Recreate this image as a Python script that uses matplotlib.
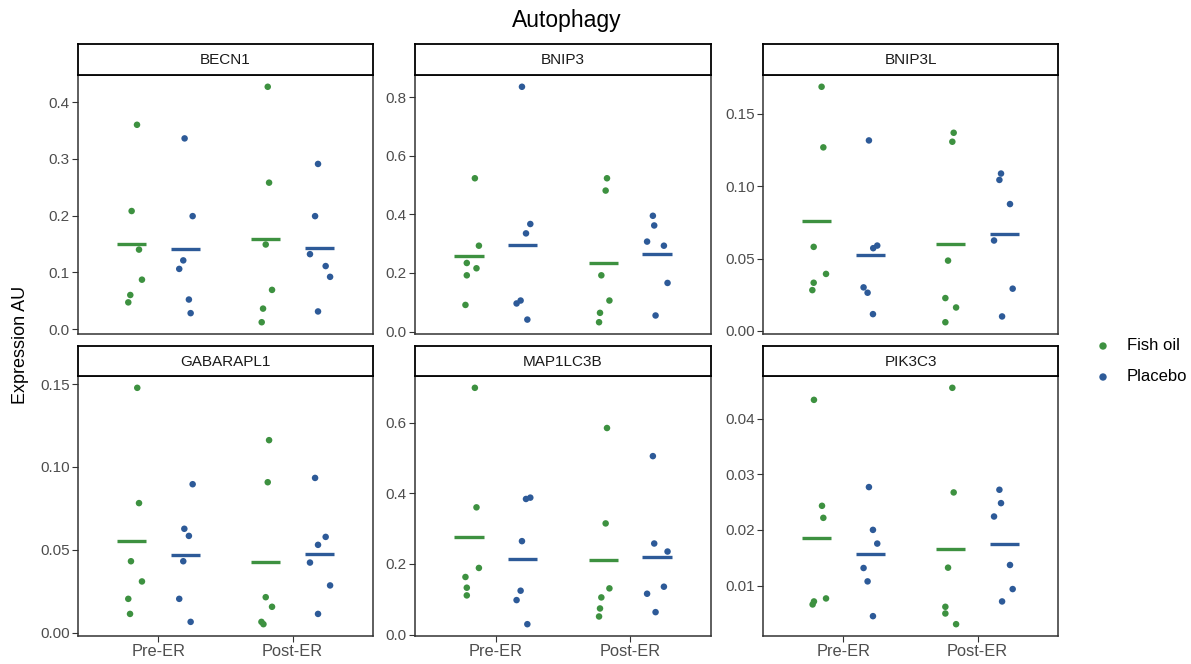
import numpy as np
import matplotlib
matplotlib.use("Agg")
import matplotlib.pyplot as plt
from matplotlib.ticker import FixedLocator, FormatStrFormatter

plt.rcParams['font.family'] = ['Liberation Sans', 'DejaVu Sans']

# ---------------- data ----------------
genes = ["BECN1", "BNIP3", "BNIP3L", "GABARAPL1", "MAP1LC3B", "PIK3C3"]
timepoints = ["Pre-ER", "Post-ER"]
groups = ["Fish oil", "Placebo"]

BECN1 = {
    ("Fish oil", "Pre-ER"): [0.360, 0.208, 0.140, 0.087, 0.060, 0.047],
    ("Placebo", "Pre-ER"): [0.336, 0.199, 0.121, 0.106, 0.052, 0.028],
    ("Fish oil", "Post-ER"): [0.427, 0.258, 0.149, 0.069, 0.036, 0.012],
    ("Placebo", "Post-ER"): [0.291, 0.199, 0.132, 0.111, 0.092, 0.031],
}
BNIP3 = {
    ("Fish oil", "Pre-ER"): [0.523, 0.293, 0.234, 0.216, 0.192, 0.091],
    ("Placebo", "Pre-ER"): [0.835, 0.367, 0.335, 0.106, 0.096, 0.041],
    ("Fish oil", "Post-ER"): [0.523, 0.481, 0.192, 0.106, 0.064, 0.032],
    ("Placebo", "Post-ER"): [0.395, 0.362, 0.307, 0.293, 0.166, 0.055],
}
BNIP3L = {
    ("Fish oil", "Pre-ER"): [0.1688, 0.1269, 0.0581, 0.0394, 0.0333, 0.0282],
    ("Placebo", "Pre-ER"): [0.1317, 0.0590, 0.0572, 0.0301, 0.0264, 0.0116],
    ("Fish oil", "Post-ER"): [0.1370, 0.1308, 0.0486, 0.0227, 0.0162, 0.0060],
    ("Placebo", "Post-ER"): [0.1088, 0.1044, 0.0877, 0.0625, 0.0292, 0.0100],
}
GABARAPL1 = {
    ("Fish oil", "Pre-ER"): [0.1478, 0.0782, 0.0431, 0.0309, 0.0204, 0.0113],
    ("Placebo", "Pre-ER"): [0.0896, 0.0627, 0.0584, 0.0431, 0.0204, 0.0065],
    ("Fish oil", "Post-ER"): [0.1162, 0.0908, 0.0214, 0.0156, 0.0065, 0.0051],
    ("Placebo", "Post-ER"): [0.0934, 0.0578, 0.0530, 0.0423, 0.0285, 0.0113],
}
MAP1LC3B = {
    ("Fish oil", "Pre-ER"): [0.6986, 0.3602, 0.1886, 0.1630, 0.1327, 0.1109],
    ("Placebo", "Pre-ER"): [0.3877, 0.3839, 0.2645, 0.1242, 0.0976, 0.0294],
    ("Fish oil", "Post-ER"): [0.5848, 0.3147, 0.1308, 0.1052, 0.0739, 0.0512],
    ("Placebo", "Post-ER"): [0.5052, 0.2578, 0.2351, 0.1355, 0.1156, 0.0635],
}
PIK3C3 = {
    ("Fish oil", "Pre-ER"): [0.04335, 0.02434, 0.02218, 0.00772, 0.00718, 0.00664],
    ("Placebo", "Pre-ER"): [0.02770, 0.02002, 0.01756, 0.01318, 0.01078, 0.00454],
    ("Fish oil", "Post-ER"): [0.04551, 0.02674, 0.01324, 0.00622, 0.00502, 0.00310],
    ("Placebo", "Post-ER"): [0.02722, 0.02482, 0.02242, 0.01372, 0.00940, 0.00718],
}

# horizontal jitter offsets (x units)
jit_col1 = {
    ("Fish oil", "Pre-ER"): [0.040, 0.000, 0.055, 0.077, -0.010, -0.025],
    ("Placebo", "Pre-ER"): [-0.005, 0.055, -0.015, -0.045, 0.027, 0.040],
    ("Fish oil", "Post-ER"): [0.015, 0.025, 0.000, 0.047, -0.020, -0.030],
    ("Placebo", "Post-ER"): [-0.010, -0.032, -0.070, 0.047, 0.080, -0.010],
}
jit_BNIP3 = {
    ("Fish oil", "Pre-ER"): [0.045, 0.075, -0.015, 0.057, -0.015, -0.025],
    ("Placebo", "Pre-ER"): [-0.005, 0.057, 0.025, -0.015, -0.045, 0.035],
    ("Fish oil", "Post-ER"): [0.027, 0.017, -0.015, 0.045, -0.025, -0.032],
    ("Placebo", "Post-ER"): [-0.032, -0.022, -0.075, 0.050, 0.077, -0.012],
}
jit_BNIP3L = {
    ("Fish oil", "Pre-ER"): [0.037, 0.050, -0.022, 0.070, -0.022, -0.032],
    ("Placebo", "Pre-ER"): [-0.010, 0.052, 0.022, -0.050, -0.020, 0.020],
    ("Fish oil", "Post-ER"): [0.022, 0.012, -0.020, -0.040, 0.040, -0.040],
    ("Placebo", "Post-ER"): [-0.025, -0.037, 0.042, -0.077, 0.062, -0.017],
}
jit_GABARAPL1 = {
    ("Fish oil", "Pre-ER"): [0.042, 0.055, -0.005, 0.077, -0.025, -0.012],
    ("Placebo", "Pre-ER"): [0.055, -0.007, 0.027, -0.015, -0.045, 0.040],
    ("Fish oil", "Post-ER"): [0.025, 0.015, 0.000, 0.047, -0.032, -0.017],
    ("Placebo", "Post-ER"): [-0.032, 0.047, -0.010, -0.070, 0.080, -0.010],
}
jit_MAP1LC3B = {
    ("Fish oil", "Pre-ER"): [0.045, 0.057, 0.075, -0.025, -0.015, -0.015],
    ("Placebo", "Pre-ER"): [0.057, 0.025, -0.005, -0.015, -0.045, 0.035],
    ("Fish oil", "Post-ER"): [0.027, 0.017, 0.045, -0.015, -0.025, -0.032],
    ("Placebo", "Post-ER"): [-0.032, -0.022, 0.077, 0.050, -0.075, -0.012],
}
jit_PIK3C3 = {
    ("Fish oil", "Pre-ER"): [-0.020, 0.040, 0.050, 0.070, -0.020, -0.030],
    ("Placebo", "Pre-ER"): [-0.010, 0.020, 0.052, -0.050, -0.020, 0.020],
    ("Fish oil", "Post-ER"): [0.012, 0.022, -0.020, -0.040, -0.040, 0.040],
    ("Placebo", "Post-ER"): [-0.037, -0.025, -0.077, 0.042, 0.062, -0.017],
}

yticks = {
    "BECN1": [0.0, 0.1, 0.2, 0.3, 0.4],
    "BNIP3": [0.0, 0.2, 0.4, 0.6, 0.8],
    "BNIP3L": [0.00, 0.05, 0.10, 0.15],
    "GABARAPL1": [0.00, 0.05, 0.10, 0.15],
    "MAP1LC3B": [0.0, 0.2, 0.4, 0.6],
    "PIK3C3": [0.01, 0.02, 0.03, 0.04],
}
ytick_fmt = {"BECN1": "%.1f", "BNIP3": "%.1f", "BNIP3L": "%.2f",
             "GABARAPL1": "%.2f", "MAP1LC3B": "%.1f", "PIK3C3": "%.2f"}

data = {"BECN1": BECN1, "BNIP3": BNIP3, "BNIP3L": BNIP3L,
        "GABARAPL1": GABARAPL1, "MAP1LC3B": MAP1LC3B, "PIK3C3": PIK3C3}
jitter = {"BECN1": jit_col1, "BNIP3": jit_BNIP3, "BNIP3L": jit_BNIP3L,
          "GABARAPL1": jit_GABARAPL1, "MAP1LC3B": jit_MAP1LC3B, "PIK3C3": jit_PIK3C3}

colors = {"Fish oil": "#3D9140", "Placebo": "#2D5A98"}
dodge = {"Fish oil": -0.2, "Placebo": 0.2}

# ---------------- layout ----------------
W, H = 1191, 664
fig = plt.figure(figsize=(W / 100, H / 100), dpi=100)

col_x = [(78, 373), (415, 711), (763, 1058)]
row_y = [(44, 75, 334), (346, 376, 636)]  # strip top, strip bottom / axes top, axes bottom

tick_col = "#4D4D4D"

for i, gene in enumerate(genes):
    r, c = divmod(i, 3)
    x0, x1 = col_x[c]
    st, at, ab = row_y[r]
    ax = fig.add_axes([x0 / W, 1 - ab / H, (x1 - x0) / W, (ab - at) / H])
    sax = fig.add_axes([x0 / W, 1 - at / H, (x1 - x0) / W, (at - st) / H])

    d = data[gene]
    jt = jitter[gene]
    allv = []
    for ti, tp in enumerate(timepoints):
        for g in groups:
            vals = np.array(d[(g, tp)])
            allv.extend(vals)
            xc = ti + 1 + dodge[g]
            xs = xc + np.array(jt[(g, tp)])
            ax.scatter(xs, vals, s=22, color=colors[g], edgecolors='none', zorder=3)
            m = vals.mean()
            ax.hlines(m, xc - 0.11, xc + 0.11, color=colors[g], lw=2.4, zorder=2)
    allv = np.array(allv)
    lo, hi = allv.min(), allv.max()
    pad = (hi - lo) * 0.05
    ax.set_ylim(lo - pad, hi + pad)
    ax.set_xlim(0.4, 2.6)
    ax.yaxis.set_major_locator(FixedLocator(yticks[gene]))
    ax.yaxis.set_major_formatter(FormatStrFormatter(ytick_fmt[gene]))
    ax.tick_params(axis='y', colors="#333333", labelcolor=tick_col, labelsize=11,
                   length=4, width=0.8, pad=2)
    if r == 1:
        ax.set_xticks([1, 2])
        ax.set_xticklabels(timepoints)
        ax.tick_params(axis='x', colors="#333333", labelcolor=tick_col, labelsize=11.8,
                       length=4, width=0.8, pad=2)
    else:
        ax.set_xticks([])
    for sp in ax.spines.values():
        sp.set_color("#333333")
        sp.set_linewidth(1.1)

    sax.set_xticks([])
    sax.set_yticks([])
    sax.set_facecolor("white")
    for sp in sax.spines.values():
        sp.set_color("black")
        sp.set_linewidth(1.3)
    sax.text(0.5, 0.47, gene, ha='center', va='center', fontsize=11, color="#1A1A1A",
             transform=sax.transAxes)

fig.text(567 / W, 1 - 21 / H, "Autophagy", ha='center', va='center', fontsize=16.5, color="black")
fig.text(21 / W, 1 - 345 / H, "Expression AU", ha='center', va='center', rotation=90,
         fontsize=13, color="black")

# legend
for k, g in enumerate(groups):
    yy = 346 + k * 31
    fig.patches.append(matplotlib.patches.Circle((1103, (H - yy)), 3,
                                                 transform=None, color=colors[g]))
    fig.text(1127 / W, 1 - yy / H, g, ha='left', va='center', fontsize=12, color="black")

fig.savefig("out.png", dpi=100)
